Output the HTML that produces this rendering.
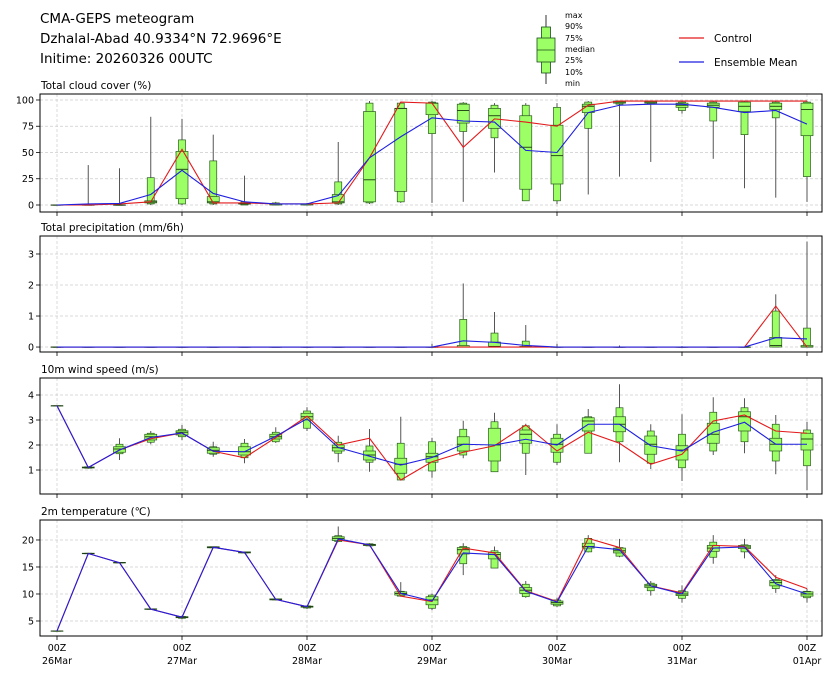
<!DOCTYPE html>
<html><head><meta charset="utf-8"><style>
body{margin:0;background:#fff;}
svg{font-family:"DejaVu Sans","Liberation Sans",sans-serif;}
</style></head><body>
<svg id="chart" width="834" height="680" viewBox="0 0 834 680" xmlns="http://www.w3.org/2000/svg">
<g>
<text x="40" y="23" font-size="13.5">CMA-GEPS meteogram</text>
<text x="40" y="43" font-size="13.5">Dzhalal-Abad 40.9334°N 72.9696°E</text>
<text x="40" y="63" font-size="13.5">Initime: 20260326 00UTC</text>
</g>
<g>
<line x1="546" y1="15" x2="546" y2="84" stroke="#333" stroke-width="1"/>
<rect x="541.5" y="27" width="9" height="46" fill="#9cff66" stroke="#1a4d1a" stroke-width="0.8"/>
<rect x="537" y="38" width="18" height="24" fill="#9cff66" stroke="#1a4d1a" stroke-width="0.8"/>
<line x1="537" y1="50" x2="555" y2="50" stroke="#1a4d1a" stroke-width="0.8"/>
<g font-size="8" fill="#000">
<text x="565" y="18">max</text><text x="565" y="29">90%</text><text x="565" y="41">75%</text><text x="565" y="52">median</text><text x="565" y="63">25%</text><text x="565" y="75">10%</text><text x="565" y="86">min</text>
</g>
</g>
<g>
<line x1="679" y1="38" x2="704" y2="38" stroke="#e31a1c" stroke-width="1.2"/>
<text x="714" y="42" font-size="10.5">Control</text>
<line x1="679" y1="62" x2="704" y2="62" stroke="#1f1fe0" stroke-width="1.2"/>
<text x="714" y="66" font-size="10.5">Ensemble Mean</text>
</g>
</svg>
<script>
// ---- data (25 steps, every 6h from 26Mar 00Z) ----
const xDayLabels = ["26Mar","27Mar","28Mar","29Mar","30Mar","31Mar","01Apr"];
// cloud cover
const cloudMax=[0,38,35,84,82,67,28,3,2,60,99,98,99,98,97,97,97,99,99,99,99,99,99,99,99];
const cloudP90=[0,0,0,26,62,42,3,2,1,22,97,97,98,97,95,95,93,98,99,99,98,98,98,98,98];
const cloudP75=[0,0,0,4,51,8,2,1,1,10,89,92,97,96,92,85,76,96,99,99,97,97,98,97,97];
const cloudMed=[0,0,0,3,34,3,1,1,1,3,24,92,97,90,85,55,47,94,98,98,95,95,94,94,91];
const cloudP25=[0,0,0,2,6,2,1,0,0,2,3,13,86,78,73,15,20,88,97,97,93,93,89,91,66];
const cloudP10=[0,0,0,1,1,1,0,0,0,1,2,3,68,70,64,4,4,73,96,96,90,80,67,83,27];
const cloudMin=[0,0,0,0,0,0,0,0,0,0,1,2,2,3,31,4,1,10,27,41,87,44,16,7,3];
const cloudCtrl=[0,0,1,3,53,2,2,1,1,2,45,98,97,55,82,79,75,95,99,99,99,99,99,99,99];
const cloudMean=[0,1,1.5,10,33,11,3,1,1,9,45,65,83,80,79,52,50,88,95,96,96,93,88,90,77];
// precipitation
const precMax=[0,0,0,0,0,0,0,0,0,0,0,0,0.1,2.05,1.13,0.71,0.1,0,0.05,0,0.03,0,0,1.7,3.4];
const precP90=[0,0,0,0,0,0,0,0,0,0,0,0,0,0.89,0.45,0.19,0,0,0,0,0,0,0,1.16,0.61];
const precP75=[0,0,0,0,0,0,0,0,0,0,0,0,0,0.05,0.16,0.02,0,0,0,0,0,0,0,0.31,0.05];
const precMed=[0,0,0,0,0,0,0,0,0,0,0,0,0,0,0.02,0,0,0,0,0,0,0,0,0.05,0];
const precP25=[0,0,0,0,0,0,0,0,0,0,0,0,0,0,0,0,0,0,0,0,0,0,0,0,0];
const precP10=[0,0,0,0,0,0,0,0,0,0,0,0,0,0,0,0,0,0,0,0,0,0,0,0,0];
const precMin=[0,0,0,0,0,0,0,0,0,0,0,0,0,0,0,0,0,0,0,0,0,0,0,0,0];
const precCtrl=[0,0,0,0,0,0,0,0,0,0,0,0,0,0,0,0,0,0,0,0,0,0,0,1.32,0];
const precMean=[0,0,0,0,0,0,0,0,0,0,0,0,0,0.2,0.15,0.05,0,0,0,0,0,0,0,0.3,0.26];
// wind speed
const windMax=[3.57,1.15,2.27,2.56,2.8,2.13,2.24,2.71,3.51,2.37,2.64,3.13,2.29,2.97,3.29,2.85,2.83,3.44,4.43,2.83,3.23,3.91,3.87,3.2,2.93];
const windP90=[3.57,1.13,2.03,2.47,2.63,1.93,2.07,2.51,3.36,2.11,1.96,2.07,2.13,2.63,2.93,2.77,2.43,3.13,3.49,2.56,2.43,3.31,3.49,2.83,2.6];
const windP75=[3.57,1.12,1.93,2.43,2.57,1.89,1.93,2.43,3.27,2.0,1.76,1.47,1.67,2.33,2.67,2.6,2.27,3.09,3.13,2.36,1.97,2.87,3.33,2.27,2.47];
const windMed=[3.57,1.1,1.84,2.33,2.51,1.79,1.73,2.33,3.13,1.89,1.6,1.23,1.53,2.03,2.0,2.43,2.03,2.96,2.83,2.03,1.8,2.43,3.13,2.03,2.24];
const windP25=[3.57,1.08,1.71,2.2,2.4,1.67,1.6,2.24,3.0,1.76,1.4,0.87,1.31,1.76,1.36,2.07,1.71,2.56,2.53,1.63,1.4,2.07,2.56,1.76,1.8];
const windP10=[3.57,1.07,1.65,2.11,2.33,1.63,1.49,2.13,2.67,1.67,1.31,0.6,0.96,1.6,0.93,1.67,1.31,1.67,2.13,1.27,1.09,1.76,2.13,1.36,1.17];
const windMin=[3.57,1.05,1.4,2.03,2.2,1.53,1.27,2.08,2.56,1.31,0.93,0.58,0.69,1.47,0.93,0.8,1.2,1.67,1.31,1.04,0.56,1.6,1.67,0.83,0.2];
const windCtrl=[3.57,1.1,1.8,2.25,2.48,1.75,1.49,2.3,3.15,2.0,2.27,0.6,1.33,1.71,1.97,2.8,1.76,2.51,2.07,1.23,1.63,2.96,3.2,2.56,2.47];
const windMean=[3.57,1.1,1.8,2.3,2.48,1.75,1.73,2.35,3.05,1.9,1.55,1.2,1.5,2.03,2.0,2.23,2.0,2.83,2.83,1.97,1.76,2.51,2.91,2.03,2.03];
// temperature
const tempMax=[3.15,17.6,15.9,7.3,6.0,18.8,17.85,9.15,7.9,22.5,19.4,12.2,10.1,19.4,18.8,12.4,9.3,20.9,20.2,12.4,11.6,20.9,20.2,13.5,11.0];
const tempP90=[3.15,17.55,15.85,7.25,5.85,18.75,17.8,9.1,7.8,20.8,19.3,10.5,9.8,18.8,18.0,11.8,8.9,20.3,18.6,12.0,10.6,19.6,19.1,12.7,10.5];
const tempP75=[3.15,17.55,15.85,7.25,5.8,18.75,17.8,9.1,7.75,20.6,19.2,10.4,9.5,18.6,17.7,11.2,8.7,19.4,18.5,11.8,10.4,19.0,19.0,12.5,10.4];
const tempMed=[3.15,17.5,15.8,7.2,5.7,18.65,17.7,9.0,7.65,20.3,19.1,10.1,8.9,18.2,17.3,10.7,8.4,18.8,18.0,11.5,10.0,18.5,18.7,12.1,10.0];
const tempP25=[3.15,17.45,15.75,7.15,5.6,18.55,17.6,8.9,7.55,19.9,18.95,9.8,8.0,17.4,16.5,10.1,8.1,18.5,17.6,11.2,9.7,17.9,18.4,11.5,9.6];
const tempP10=[3.15,17.45,15.75,7.15,5.5,18.55,17.6,8.9,7.4,19.7,18.9,9.6,7.35,15.6,14.8,9.5,7.8,17.8,17.0,10.6,9.2,16.8,17.8,11.0,9.3];
const tempMin=[3.15,17.4,15.7,7.1,5.3,18.5,17.5,8.8,7.2,19.6,18.8,9.5,7.0,13.5,14.8,9.3,7.6,17.7,16.8,9.7,8.4,15.6,16.6,10.2,8.4];
const tempCtrl=[3.15,17.5,15.8,7.2,5.7,18.65,17.7,9.0,7.65,20.0,19.1,9.6,8.6,18.5,17.6,10.6,8.6,20.3,18.6,11.5,10.2,19.0,18.8,13.1,11.0];
const tempMean=[3.15,17.5,15.8,7.2,5.7,18.65,17.7,9.0,7.65,20.2,19.1,10.1,8.7,17.6,17.3,10.5,8.5,18.8,18.2,11.5,10.0,18.5,18.7,11.9,10.0];
// y tick labels
const cloudTicks=[0,25,50,75,100];
const precTicks=[0,1,2,3];
const windTicks=[1,2,3,4];
const tempTicks=[5,10,15,20];

const NS="http://www.w3.org/2000/svg";
const svg=document.getElementById('chart');
const L=40,R=822;
function xScale(i){return 57+31.25*i;}
function mk(tag,attrs,parent){const e=document.createElementNS(NS,tag);for(const k in attrs)e.setAttribute(k,attrs[k]);(parent||svg).appendChild(e);return e;}

function panel(name,title,top,bot,ymin,ymax,ticks,s,showX){
  const g=mk('g',{});
  
  
  const y=v=>bot-(v-ymin)/(ymax-ymin)*(bot-top);
  const t=mk('text',{x:41,y:top-5,'font-size':10.5},g);t.textContent=title;
  
  
  for(let d=0;d<7;d++){const x=xScale(d*4);mk('line',{x1:x,x2:x,y1:top,y2:bot,stroke:'#ccc','stroke-width':0.7,'stroke-dasharray':'3,2'},g);
    mk('line',{x1:x,x2:x,y1:bot,y2:bot+4,stroke:'#000','stroke-width':0.8},g);}
  ticks.forEach(v=>{const yy=y(v);mk('line',{x1:L,x2:R,y1:yy,y2:yy,stroke:'#ccc','stroke-width':0.7,'stroke-dasharray':'3,2'},g);
    mk('line',{x1:L-4,x2:L,y1:yy,y2:yy,stroke:'#000','stroke-width':0.8},g);
    const tl=mk('text',{x:L-6,y:yy+3.5,'font-size':9.5,'text-anchor':'end'},g);tl.textContent=v;
    
    });
  for(let i=0;i<25;i++){
    const x=xScale(i);
    const bg=mk('g',{},g);
    
    
    mk('line',{x1:x,x2:x,y1:y(s.max[i]),y2:y(s.min[i]),stroke:'#555','stroke-width':1},bg);
    mk('rect',{x:x-3.5,y:y(s.p90[i]),width:7,height:Math.max(0.3,y(s.p10[i])-y(s.p90[i])),fill:'#9cff66',stroke:'#2b5a1e','stroke-width':0.7},bg);
    mk('rect',{x:x-6,y:y(s.p75[i]),width:12,height:Math.max(0.3,y(s.p25[i])-y(s.p75[i])),fill:'#9cff66',stroke:'#2b5a1e','stroke-width':0.7},bg);
    mk('line',{x1:x-6,x2:x+6,y1:y(s.med[i]),y2:y(s.med[i]),stroke:'#1a3a10','stroke-width':0.9},bg);
  }
  const pts=a=>a.map((v,i)=>xScale(i)+','+y(v)).join(' ');
  const c=mk('polyline',{points:pts(s.ctrl),fill:'none',stroke:'#e31a1c','stroke-width':1.1},g);
  
  
  const m=mk('polyline',{points:pts(s.mean),fill:'none',stroke:'#1f1fe0','stroke-width':1.1},g);
  
  
  mk('rect',{x:L,y:top,width:R-L,height:bot-top,fill:'none',stroke:'#000','stroke-width':1},g);
  if(showX){
    xDayLabels.forEach((lab,d)=>{const x=xScale(d*4);
      const a=mk('text',{x:x,y:bot+15,'font-size':9.5,'text-anchor':'middle'},g);a.textContent='00Z';
      
      
      const b=mk('text',{x:x,y:bot+28,'font-size':9.5,'text-anchor':'middle'},g);b.textContent=lab;
      
      });
  }
}
panel('cloud','Total cloud cover (%)',94,212,-6.67,105.7,cloudTicks,{max:cloudMax,p90:cloudP90,p75:cloudP75,med:cloudMed,p25:cloudP25,p10:cloudP10,min:cloudMin,ctrl:cloudCtrl,mean:cloudMean},false);
panel('precip','Total precipitation (mm/6h)',236,352,-0.16,3.58,precTicks,{max:precMax,p90:precP90,p75:precP75,med:precMed,p25:precP25,p10:precP10,min:precMin,ctrl:precCtrl,mean:precMean},false);
panel('wind','10m wind speed (m/s)',378,494,0.04,4.68,windTicks,{max:windMax,p90:windP90,p75:windP75,med:windMed,p25:windP25,p10:windP10,min:windMin,ctrl:windCtrl,mean:windMean},false);
panel('temp','2m temperature (℃)',520,636,2.22,23.7,tempTicks,{max:tempMax,p90:tempP90,p75:tempP75,med:tempMed,p25:tempP25,p10:tempP10,min:tempMin,ctrl:tempCtrl,mean:tempMean},true);
</script>
</body></html>
